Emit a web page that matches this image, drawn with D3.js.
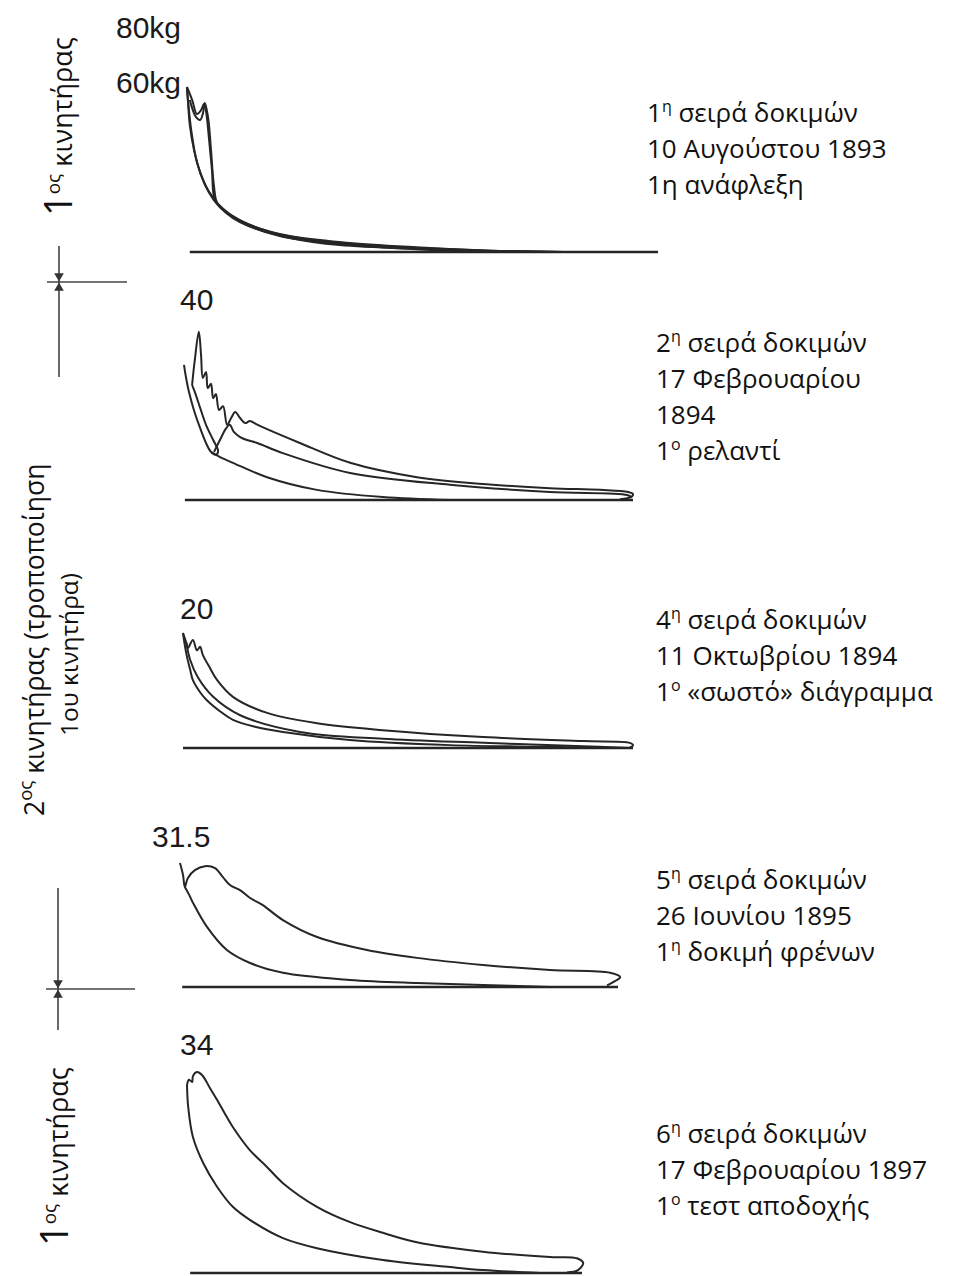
<!DOCTYPE html>
<html>
<head>
<meta charset="utf-8">
<script src="https://cdn.jsdelivr.net/npm/d3@7"></script>
<style>
  body { margin: 0; background: #fff; }
  svg { display: block; }
</style>
</head>
<body>
<script>
const w = 953;
const h = 1276;

// indicator diagrams: [stroke %, pressure kg/cm2]
const peak1 = 60;
const scale1 = [80, 60];
const curves1 = [
  [[0.2,60],[0.4,55.3],[0.8,46.2],[1.7,37.1],[3.0,29.1],[4.7,22.5],[6.8,17.5],[9.7,13.1],[14.6,8.7],[22,5.1],[32.6,2.5],[49.6,1.1],[64.4,0.4],[79,0]],
  [[0.2,60],[1.3,55.3],[2.3,50.2],[3.2,51.6],[3.8,53.8],[4.2,51.6],[4.9,40.7],[5.5,29.8],[6.1,18.9],[7.6,16.0],[11.4,11.6],[17.8,7.3],[28.4,4.0],[45.3,1.8],[64.4,0.5],[80,0]],
  [[0.8,55.3],[2.1,49.1],[3.0,48],[3.6,50.5],[4.0,54.2],[4.7,48.7],[5.3,37.1],[5.9,24.4],[6.6,17.8],[8.5,14.5],[13.6,9.8],[22,5.8],[34.7,3.3],[51.7,1.5],[66.5,0.4],[80,0]],
  [[0.2,59.6],[0.6,52],[1.1,44.4],[2.3,32.7],[4.0,24.4],[5.9,18.9],[8.5,14.2],[11.4,10.9],[19.9,5.8],[32.6,2.9],[49.6,0.9],[66.5,0]]
];

const peak2 = 40;
const curves2 = [
  [[1.8,27.2],[2.4,33.1],[3.3,39.8],[3.8,34.3],[4.2,28.9],[4.9,30.3],[5.3,26.5],[6.0,27.5],[6.5,24.1],[7.1,25.1],[7.8,21.3],[8.7,22.2],[9.6,17.8],[10.5,19.4],[11.4,20.8],[12.5,19.4],[13.6,18.2],[14.7,18.7],[16.0,18.0],[18.0,17.0],[25.8,13.5],[37.0,8.8],[51.9,5.4],[66.6,3.8],[81.5,2.8],[92.7,2.4],[98.9,1.9],[100,1.4],[99.6,0.7],[97.1,0.2]],
  [[6.7,11.4],[8.0,14.2],[9.4,17.0],[10.2,17.8],[11.1,16.1],[12.5,14.9],[14.0,14.2],[16.3,13.5],[22.0,11.1],[37.0,6.4],[59.2,3.6],[81.5,1.9],[98.7,1.2],[99.8,0.6]],
  [[0,32],[0.4,29.3],[1.1,25.6],[2.2,21.3],[3.6,17.0],[4.9,13.5],[6.0,11.4],[7.1,10.7],[7.6,11.6],[6.5,14.2],[4.9,17.8],[3.6,21.8],[2.4,25.6],[1.8,27.2]],
  [[6.0,11.4],[8.5,9.9],[10.9,8.8],[18.5,5.4],[29.6,2.4],[44.3,0.7],[59.2,0]]
];

const peak3 = 20;
const curves3 = [
  [[0,20],[0.7,18.4],[1.1,17.4],[2.2,18.8],[3.1,17.0],[3.8,17.6],[4.4,16.2],[6.0,13.9],[7.6,11.8],[11.1,8.9],[18.7,6.1],[29.8,4.3],[44.4,3.1],[66.7,1.9],[88.9,1.2],[99.3,0.9],[100,0.5],[99.3,0.1]],
  [[0,20],[0.4,17.9],[0.9,15.8],[1.6,13.6],[2.2,11.8],[3.8,9.7],[5.3,8.3],[8.2,6.4],[11.1,4.9],[16,3.7],[22.2,2.8],[37.1,1.4],[59.3,0.5],[81.6,0.2],[92.7,0]],
  [[0.7,18.4],[1.6,15.3],[3.3,12.3],[6.7,8.9],[12.7,5.7],[26,2.8],[44.4,1.6],[66.7,0.9],[88.9,0.3],[99.3,0]]
];

const peak4 = 31.5;
const curves4 = [
  [[0,31.5],[0.7,28.4],[1.1,25.4],[1.8,27.7],[3.4,29.7],[5.7,30.7],[8.0,30.2],[9.8,27.9],[11.4,25.9],[13.7,24.6],[16.0,22.6],[18.9,20.8],[23.5,17.0],[31.3,12.7],[42.7,9.4],[54.1,7.4],[69.2,5.6],[84.5,4.3],[98.2,3.6],[100.5,2.5],[99.3,1.5],[97.5,0.4]],
  [[1.1,25.4],[2.1,23.4],[3.0,21.3],[6.2,15.2],[10.7,9.4],[16.0,6.1],[23.5,3.6],[38.8,1.8],[54.1,1.0],[69.2,0.5],[84.5,0]]
];

const peak5 = 34;
const curves5 = [
  [[0,31.8],[0.5,32.7],[1.3,32.3],[1.5,33.3],[2.5,34.0],[3.8,33.5],[5.8,31.3],[7.6,29.3],[11.6,24.7],[15.9,20.8],[20.3,17.9],[24.3,15.2],[32.9,11.2],[41.3,8.6],[49.6,6.8],[58.2,5.2],[74.9,3.6],[91.9,2.7],[98.7,2.5],[100.3,1.7],[99.0,0.5],[96.2,0.1]],
  [[0,31.8],[0.3,28.1],[1.5,23.0],[4.1,18.6],[7.6,14.6],[11.6,11.2],[15.9,9.0],[24.3,5.9],[32.9,4.2],[49.6,2.2],[66.6,1.0],[74.9,0.5],[89.4,0]]
];

const peakLabels = ["40", "20", "31.5", "34"];

// text blocks, "|" marks superscript parts
const notes1 = ["1|η| σειρά δοκιμών", "10 Αυγούστου 1893", "1η ανάφλεξη"];
const notes2 = ["2|η| σειρά δοκιμών", "17 Φεβρουαρίου", "1894", "1|ο| ρελαντί"];
const notes3 = ["4|η| σειρά δοκιμών", "11 Οκτωβρίου 1894", "1|ο| «σωστό» διάγραμμα"];
const notes4 = ["5|η| σειρά δοκιμών", "26 Ιουνίου 1895", "1|η|  δοκιμή φρένων"];
const notes5 = ["6|η| σειρά δοκιμών", "17 Φεβρουαρίου 1897", "1|ο|  τεστ αποδοχής"];

const engine1 = "1|ος| κινητήρας";
const engine2 = ["2|ος| κινητήρας (τροποποίηση", "1ου κινητήρα)"];

const svg = d3.select("body")
  .append("svg")
  .attr("width", w)
  .attr("height", h);

const ink = "#262626";
const font = "'Open Sans', 'Noto Sans', sans-serif";

// each diagram: x range (stroke 0..100), baseline y and peak y
const panels = [
  {curves: curves1, peak: peak1, x: [186, 658], y: [252, 87], base: [0.8, 100]},
  {curves: curves2, peak: peak2, x: [184, 633], y: [500, 331], base: [0.2, 100]},
  {curves: curves3, peak: peak3, x: [183, 633], y: [748, 633], base: [0, 100]},
  {curves: curves4, peak: peak4, x: [180, 618], y: [987, 863], base: [0.5, 100]},
  {curves: curves5, peak: peak5, x: [187, 582], y: [1273, 1072], base: [0.8, 100]}
];

panels.forEach((p, i) => {
  const x = d3.scaleLinear().domain([0, 100]).range(p.x);
  const y = d3.scaleLinear().domain([0, p.peak]).range(p.y);
  p.xs = x; p.ys = y;

  const line = d3.line()
    .x(d => x(d[0]))
    .y(d => y(d[1]))
    .curve(d3.curveCatmullRom.alpha(0.5));

  const g = svg.append("g").attr("class", "diagram");

  g.append("line")
    .attr("x1", x(p.base[0]))
    .attr("x2", x(p.base[1]))
    .attr("y1", y(0))
    .attr("y2", y(0))
    .attr("stroke", ink)
    .attr("stroke-width", 2.4);

  g.selectAll("path")
    .data(p.curves)
    .enter().append("path")
    .attr("d", line)
    .attr("fill", "none")
    .attr("stroke", ink)
    .attr("stroke-width", 2)
    .attr("stroke-linejoin", "round");
});

// pressure labels
const labelFont = "'Liberation Sans', Arial, sans-serif";
scale1.forEach(v => {
  svg.append("text")
    .attr("x", 116)
    .attr("y", panels[0].ys(v) + 6)
    .attr("font-family", labelFont)
    .attr("font-size", 30)
    .attr("fill", "#1a1a1a")
    .text(v + "kg");
});

const labelPos = [[180, 310], [180, 619], [152, 847], [180, 1055]];
peakLabels.forEach((t, i) => {
  svg.append("text")
    .attr("x", labelPos[i][0])
    .attr("y", labelPos[i][1])
    .attr("font-family", labelFont)
    .attr("font-size", 30)
    .attr("fill", "#1a1a1a")
    .text(t);
});

// write a string with |sup| parts into a text element
const writeRich = (sel, str, size, supSize, rise) => {
  const parts = str.split("|");
  parts.forEach((s, k) => {
    if (!s) return;
    const sup = k % 2 === 1;
    const t = sel.append("tspan").attr("font-size", sup ? supSize : size).text(s);
    if (sup) t.attr("dy", -rise);
    else if (k > 0) t.attr("dy", rise);
  });
};

const blocks = [
  [notes1, 647, 122],
  [notes2, 656, 352],
  [notes3, 656, 629],
  [notes4, 656, 889],
  [notes5, 656, 1143]
];

blocks.forEach(([lines, bx, by]) => {
  lines.forEach((s, j) => {
    const t = svg.append("text")
      .attr("x", bx)
      .attr("y", by + j * 36)
      .attr("font-family", font)
      .attr("font-size", 26)
      .attr("fill", "#111");
    writeRich(t, s, 26, 16, 10);
  });
});

// vertical engine labels
const vLabel = (str, x, y, size, first) => {
  const t = svg.append("text")
    .attr("transform", `translate(${x},${y}) rotate(-90)`)
    .attr("font-family", font)
    .attr("font-size", size)
    .attr("fill", "#111");
  const parts = str.split("|");
  parts.forEach((s, k) => {
    const sup = k % 2 === 1;
    let fs = size;
    if (k === 0 && first) fs = first;
    if (sup) fs = size * 0.7;
    const ts = t.append("tspan").attr("font-size", fs).text(s);
    if (sup) ts.attr("dy", -size * 0.45);
    else if (k > 0) ts.attr("dy", size * 0.45);
  });
};

vLabel(engine1, 72, 216, 27, 38);
vLabel(engine2[0], 44, 816, 26.5, null);
vLabel(engine2[1], 78, 736, 24.5, null);
vLabel(engine1, 68, 1246, 27, 38);

// stroke-limit markers
const marker = (cx, cy, left, right, top, bottom) => {
  const g = svg.append("g").attr("stroke", "#444").attr("stroke-width", 1.6);
  g.append("line").attr("x1", left).attr("x2", right).attr("y1", cy).attr("y2", cy);
  g.append("line").attr("x1", cx).attr("x2", cx).attr("y1", top).attr("y2", bottom);
  const tri = d3.symbol().type(d3.symbolTriangle).size(40);
  svg.append("path").attr("d", tri())
    .attr("transform", `translate(${cx},${cy - 6}) rotate(180)`).attr("fill", "#333");
  svg.append("path").attr("d", tri())
    .attr("transform", `translate(${cx},${cy + 6})`).attr("fill", "#333");
};

marker(59, 282, 47, 127, 246, 377);
marker(58, 989, 46, 135, 888, 1030);
</script>
</body>
</html>
